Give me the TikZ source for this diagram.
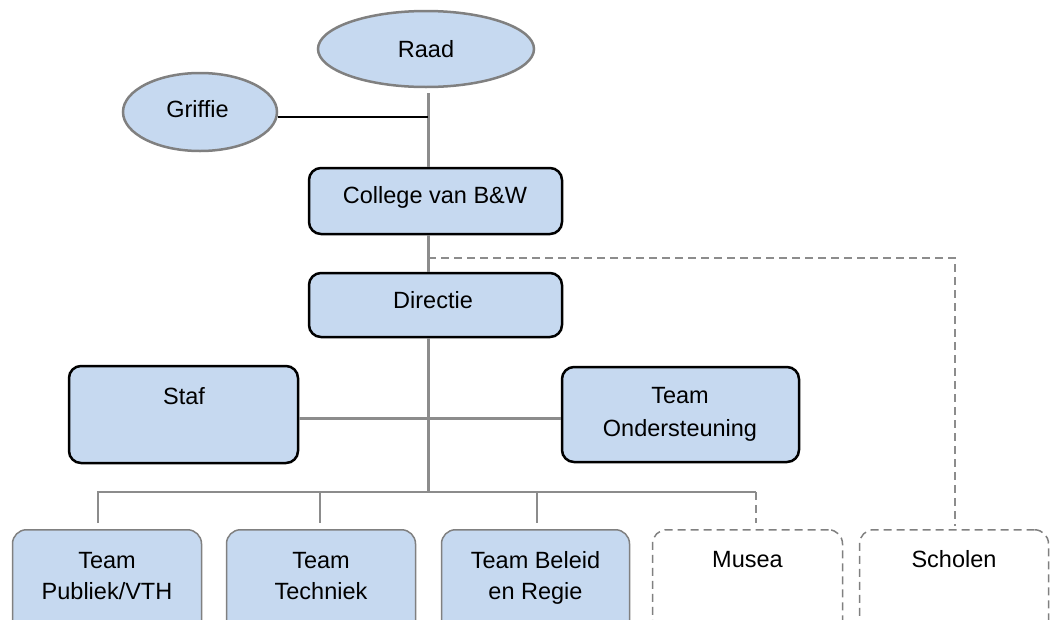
\documentclass[tikz,border=0pt]{standalone}
\usepackage{fontspec}
\setmainfont{Liberation Sans}
\usetikzlibrary{shapes.geometric}
\definecolor{boxblue}{HTML}{C6D9F0}
\definecolor{linegray}{HTML}{8C8C8C}
\definecolor{ellgray}{HTML}{808080}
\tikzset{
  ell/.style={ellipse, draw=ellgray, line width=2.5pt, fill=boxblue, inner sep=0pt},
  boxblack/.style={rectangle, rounded corners=12pt, draw=black, line width=2.5pt, fill=boxblue, inner sep=0pt},
  boxgray/.style={rectangle, rounded corners=14pt, draw=ellgray, line width=1.5pt, fill=boxblue, inner sep=0pt},
  boxdash/.style={rectangle, rounded corners=14pt, draw=ellgray, line width=1.5pt, dash pattern=on 8pt off 5pt, fill=white, inner sep=0pt},
  trunkline/.style={draw=linegray, line width=3pt},
  busline/.style={draw=linegray, line width=2pt},
  dashline/.style={draw=linegray, line width=1.5pt, dash pattern=on 8pt off 5pt},
  thinblack/.style={draw=black, line width=1.5pt},
  lbl/.style={font=\fontsize{23.5}{28}\selectfont, inner sep=0pt, anchor=base},
}
\begin{document}
\begin{tikzpicture}[x=1pt,y=-1pt]
\useasboundingbox (0,0) rectangle (1050,619);
\fill[white] (0,0) rectangle (1050,619);
\clip (0,0) rectangle (1050,619);

% nodes
\node[ell, minimum width=216pt, minimum height=76pt] (raad) at (426,49) {};
\node[ell, minimum width=154pt, minimum height=78pt] (griffie) at (200,112) {};
\node[boxblack, minimum width=253pt, minimum height=66pt] (college) at (435.5,201) {};
\node[boxblack, minimum width=253pt, minimum height=64pt] (directie) at (435.5,305) {};
\node[boxblack, minimum width=229pt, minimum height=97pt] (staf) at (183.5,414.5) {};
\node[boxblack, minimum width=237pt, minimum height=95pt] (ond) at (680.5,414.5) {};
\node[boxgray, minimum width=189pt, minimum height=120pt, anchor=north] (pub) at (107,529) {};
\node[boxgray, minimum width=189pt, minimum height=120pt, anchor=north] (tech) at (321,529) {};
\node[boxgray, minimum width=188pt, minimum height=120pt, anchor=north] (bel) at (535.5,529) {};
\node[boxdash, minimum width=190pt, minimum height=120pt, anchor=north] (mus) at (747.5,529) {};
\node[boxdash, minimum width=189pt, minimum height=120pt, anchor=north] (sch) at (954,529) {};

% texts
\node[lbl] (traad) at (426,57) {Raad};
\node[lbl] (tgriffie) at (197.5,117) {Griffie};
\node[lbl] (tcollege) at (435,203) {College van B\&W};
\node[lbl] (tdirectie) at (433,308) {Directie};
\node[lbl] (tstaf) at (184,404) {Staf};
\node[lbl] (tond1) at (680,403) {Team};
\node[lbl] (tond2) at (680,436) {Ondersteuning};
\node[lbl] (tpub1) at (107,568) {Team};
\node[lbl] (tpub2) at (107,599) {Publiek/VTH};
\node[lbl] (ttech1) at (321,568) {Team};
\node[lbl] (ttech2) at (321,599) {Techniek};
\node[lbl] (tbel1) at (535.5,568) {Team Beleid};
\node[lbl] (tbel2) at (535.5,599) {en Regie};
\node[lbl] (tmus) at (747.5,567) {Musea};
\node[lbl] (tsch) at (954,567) {Scholen};

% junction coordinates
\coordinate (tr) at (428,0);
\coordinate (gj) at (428,117);
\coordinate (dj) at (428,258);
\coordinate (sj) at (428,418);
\coordinate (bus) at (428,492);
\coordinate (b1) at (98,492);
\coordinate (b2) at (320,492);
\coordinate (b3) at (537,492);
\coordinate (b4) at (756,492);
\coordinate (sc) at (955,258);

% connectors
\draw[trunkline] (raad.south -| tr) ++(0,5) -- (college.north -| tr);
\draw[trunkline] (college.south -| tr) -- (directie.north -| tr);
\draw[trunkline] (directie.south -| tr) -- (bus);
\draw[thinblack] (gj -| griffie.east) -- (gj);
\draw[trunkline] (sj -| staf.east) -- (sj -| ond.west);
\draw[busline] (b1 |- pub.north) ++(0,-6) -- (b1) -- (b4);
\draw[busline, shorten >=6pt] (b2) -- (b2 |- tech.north);
\draw[busline, shorten >=6pt] (b3) -- (b3 |- bel.north);
\draw[dashline, shorten >=6pt] (b4) -- (b4 |- mus.north);
\draw[dashline, shorten >=3pt] (dj) -- (sc) -- (sc |- sch.north);
\end{tikzpicture}
\end{document}
